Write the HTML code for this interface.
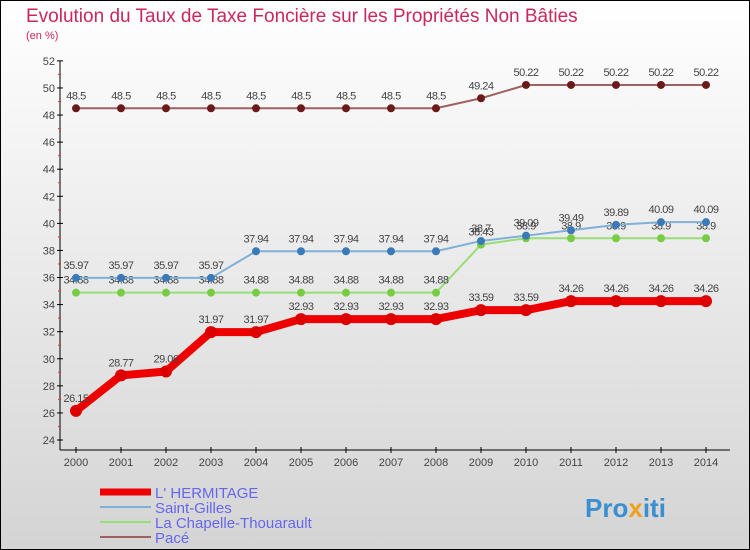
<!DOCTYPE html>
<html><head><meta charset="utf-8"><style>
body{margin:0;}
svg{display:block;font-family:"Liberation Sans",sans-serif;}
</style></head><body>
<svg id="c" width="750" height="550">
<defs><linearGradient id="bg" x1="0" y1="0" x2="0" y2="1"><stop offset="0" stop-color="#ffffff"/><stop offset="1" stop-color="#d4d4d4"/></linearGradient></defs>
<rect x="0.5" y="0.5" width="749" height="549" fill="url(#bg)" stroke="#000"/>
<text x="26" y="22" font-size="19" fill="#c8285a">Evolution du Taux de Taxe Foncière sur les Propriétés Non Bâties</text>
<text x="26" y="39" font-size="11" fill="#c8285a">(en %)</text>
<g id="axes"></g><g id="series"></g><g id="legend"></g>
<text x="585" y="517" font-size="26" font-weight="bold" fill="#3a8fd0">Pro<tspan fill="#f0a020">x</tspan>iti</text>
</svg>
<script>
const years=[2000,2001,2002,2003,2004,2005,2006,2007,2008,2009,2010,2011,2012,2013,2014];
const hermitage=[26.15,28.77,29.06,31.97,31.97,32.93,32.93,32.93,32.93,33.59,33.59,34.26,34.26,34.26,34.26];
const saintGilles=[35.97,35.97,35.97,35.97,37.94,37.94,37.94,37.94,37.94,38.7,39.09,39.49,39.89,40.09,40.09];
const chapelle=[34.88,34.88,34.88,34.88,34.88,34.88,34.88,34.88,34.88,38.43,38.9,38.9,38.9,38.9,38.9];
const pace=[48.5,48.5,48.5,48.5,48.5,48.5,48.5,48.5,48.5,49.24,50.22,50.22,50.22,50.22,50.22];
const yTicks=[24,26,28,30,32,34,36,38,40,42,44,46,48,50,52];
const NS="http://www.w3.org/2000/svg";
const x=i=>76+i*45;
const y=v=>440-(v-24)*13.54;
function mk(tag,attrs,parent,txt){const e=document.createElementNS(NS,tag);for(const k in attrs)e.setAttribute(k,attrs[k]);if(txt!==undefined)e.textContent=txt;parent.appendChild(e);return e;}
const axes=document.getElementById('axes');
let a=mk('line',{x1:60,y1:y(52),x2:60,y2:450,stroke:'#000'},axes);


a=mk('line',{x1:60,y1:450,x2:730,y2:450,stroke:'#000'},axes);


yTicks.forEach(v=>{
 mk('line',{x1:57,y1:y(v),x2:63,y2:y(v),stroke:'#000'},axes);
 if(v<52) mk('line',{x1:58,y1:y(v+1),x2:61,y2:y(v+1),stroke:'#e33'},axes);
 const t=mk('text',{x:55,y:y(v)+4,'font-size':11,fill:'#444','text-anchor':'end'},axes,v);
 
 
});
years.forEach((yr,i)=>{
 mk('line',{x1:x(i),y1:447,x2:x(i),y2:453,stroke:'#000'},axes);
 const t=mk('text',{x:x(i),y:466,'font-size':11,fill:'#444','text-anchor':'middle'},axes,yr);
 
 
});
const ser=document.getElementById('series');
function draw(data,name,col,dot,w,r){
 const g=mk('g',{},ser);
 
 
 const p=mk('polyline',{points:data.map((v,i)=>x(i)+','+y(v)).join(' '),fill:'none',stroke:col,'stroke-width':w,'stroke-linejoin':'round'},g);
 
 
 data.forEach((v,i)=>{
  const c=mk('circle',{cx:x(i),cy:y(v),r:r,fill:dot},g);
  
  
  const t=mk('text',{x:x(i),y:y(v)-9,'font-size':11,fill:'#444','text-anchor':'middle','letter-spacing':'-0.5'},g,String(v));
  
  
 });
}
draw(pace,'pace','#a06060','#6b1a1a',2,4);
draw(chapelle,'la-chapelle','#99dd77','#77cc44',2,4);
draw(saintGilles,'saint-gilles','#80b0d8','#3a7ab8',2,4);
draw(hermitage,'hermitage','#ee0000','#dd0000',8,6);
const lg=document.getElementById('legend');
[['L\' HERMITAGE','#ee0000',7],['Saint-Gilles','#80b0d8',2],['La Chapelle-Thouarault','#99dd77',2],['Pacé','#a06060',2]].forEach((d,i)=>{
 const yy=492+i*15;
 const l=mk('line',{x1:100,y1:yy,x2:151,y2:yy,stroke:d[1],'stroke-width':d[2]},lg);
 
 
 const t=mk('text',{x:155,y:yy+6,'font-size':15,fill:'#6666ee'},lg,d[0]);
 
 
});
</script>
</body></html>
